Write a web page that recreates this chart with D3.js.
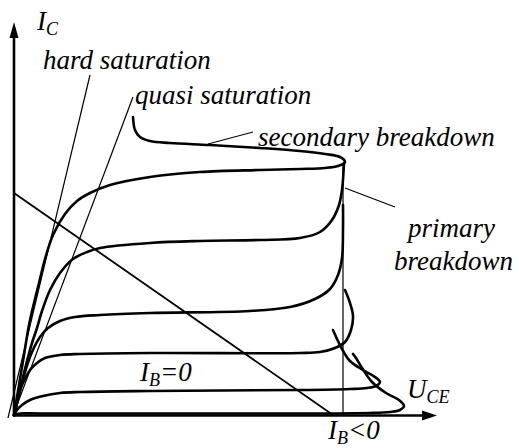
<!DOCTYPE html>
<html>
<head>
<meta charset="utf-8">
<script src="https://cdn.jsdelivr.net/npm/d3@7"></script>
</head>
<body style="margin:0">
<svg id="chart" width="519" height="448"></svg>
<script>
// ---- data (u = U_CE, i = I_C, arbitrary units) ----
const curveIB5 = [[0,0],[5,30],[10,60],[15,90],[20,112],[25,132],[31,156],[39,180],[51,201],[63,214],[76,222],[96,230],[136,238],[186,243],[246,245],[286,246],[311,247],[324,249],[331,253],[326,258],[311,261],[286,264],[246,267],[196,270],[156,272],[136,274],[126,278],[121,285],[119,298]];
const curveIB4 = [[0,0],[6,25],[12,50],[18,72],[23,87],[28,104],[36,125],[46,142],[59,156],[73,163],[86,167],[136,172],[186,174],[246,175],[286,177],[306,183],[318,195],[325,210],[328,225],[330,252]];
const curveIB3 = [[0,0],[5,20],[11,43],[18,63],[26,78],[34,87],[46,94],[61,98],[86,100],[136,102],[236,104],[276,108],[301,116],[316,126],[324,140],[328,157],[329,185],[329,210]];
const curveIB2 = [[0,0],[3,12],[6,25],[11,36],[16,45],[23,52],[31,57],[46,60],[66,61],[136,62],[286,62],[306,63],[321,67],[331,73],[337,85],[339,99],[336,112],[331,125]];
const curveIB1 = [[0,0],[3,5],[8,10],[16,15],[29,19],[46,22],[66,23],[136,24],[286,25],[336,26],[353,27],[362,29],[366,33],[361,38],[349,45],[336,54],[327,68],[319,85]];
const curveIB0 = [[0,0],[6,1.5],[26,1.5],[186,1.5],[356,2],[376,3],[386,5],[390,9],[385,15],[372,22],[358,33],[348,47],[342,57],[339,61]];
const characteristicCurves = [curveIB5, curveIB4, curveIB3, curveIB2, curveIB1, curveIB0];

const loadLine = [[0,222],[319,0]];
const hardSaturationLine = [[76,340],[-6,-3]];
const quasiSaturationLine = [[119,318],[0,2]];
const primaryLimitLine = [[329,252],[329,0]];
const secondaryPointer = [[194,271],[239,283]];
const primaryPointer = [[331,227],[381,208]];

const axisMaxU = 423, axisMaxI = 393;

// labels: main text, subscript, rest, position (u, i = baseline)
const labelMain = ["I", "hard saturation", "quasi saturation", "secondary breakdown", "primary", "breakdown", "I", "U", "I"];
const labelSub  = ["C", "", "", "", "", "", "B", "CE", "B"];
const labelRest = ["", "", "", "", "", "", "=0", "", "<0"];
const labelU    = [23, 29, 121, 244, 394, 380, 126, 393, 314];
const labelI    = [385, 346, 311, 269, 178, 145, 34, 17, -24];

// ---- drawing ----
const svg = d3.select("#chart");
const x = d3.scaleLinear().domain([0, axisMaxU]).range([14, 437]);
const y = d3.scaleLinear().domain([0, axisMaxI]).range([415, 22]);

// axes (no ticks)
const xAxis = d3.axisBottom(x).tickValues([]).tickSizeOuter(0);
const yAxis = d3.axisLeft(y).tickValues([]).tickSizeOuter(0);
const gx = svg.append("g").attr("transform", `translate(0,${y(0)+0.5})`).call(xAxis);
gx.select(".domain").attr("stroke", "#000").attr("stroke-width", 2.6)
  .attr("d", `M${x(0)},0H${x(axisMaxU)-10}`);
const gy = svg.append("g").attr("transform", `translate(${x(0)},0)`).call(yAxis);
gy.select(".domain").attr("stroke", "#000").attr("stroke-width", 2.6)
  .attr("d", `M0,${y(0)+1.5}V${y(axisMaxI)+12}`);

// arrowheads
svg.append("path")
  .attr("d", `M${x(axisMaxU)},${y(0)+0.5} L${x(axisMaxU)-15},${y(0)-4.5} L${x(axisMaxU)-15},${y(0)+5.5} Z`)
  .attr("fill", "#000");
svg.append("path")
  .attr("d", `M${x(0)},${y(axisMaxI)} L${x(0)-4.5},${y(axisMaxI)+16} L${x(0)+4.5},${y(axisMaxI)+16} Z`)
  .attr("fill", "#000");

const line = d3.line().x(d => x(d[0])).y(d => y(d[1]));
const smooth = d3.line().x(d => x(d[0])).y(d => y(d[1])).curve(d3.curveCatmullRom.alpha(0.5));

// thin straight lines
svg.append("path").attr("d", line(loadLine))
  .attr("fill", "none").attr("stroke", "#000").attr("stroke-width", 1.8);
[hardSaturationLine, quasiSaturationLine, primaryLimitLine, secondaryPointer, primaryPointer].forEach(l =>
  svg.append("path").attr("d", line(l))
    .attr("fill", "none").attr("stroke", "#000").attr("stroke-width", 1.2));

// characteristic curves
svg.selectAll("path.curve").data(characteristicCurves).enter().append("path")
  .attr("class", "curve")
  .attr("d", d => smooth(d))
  .attr("fill", "none").attr("stroke", "#000").attr("stroke-width", 2.6)
  .attr("stroke-linejoin", "round").attr("stroke-linecap", "round");

// labels
labelMain.forEach((m, k) => {
  const t = svg.append("text")
    .attr("x", x(labelU[k])).attr("y", y(labelI[k]))
    .style("font", "italic 27px 'Liberation Serif'")
    .style("fill", "#000");
  t.append("tspan").text(m);
  if (labelSub[k]) {
    t.append("tspan").style("font-size", "18px").attr("dy", 5).text(labelSub[k]);
    if (labelRest[k]) t.append("tspan").attr("dy", -5).text(labelRest[k]);
  }
});
</script>
</body>
</html>
